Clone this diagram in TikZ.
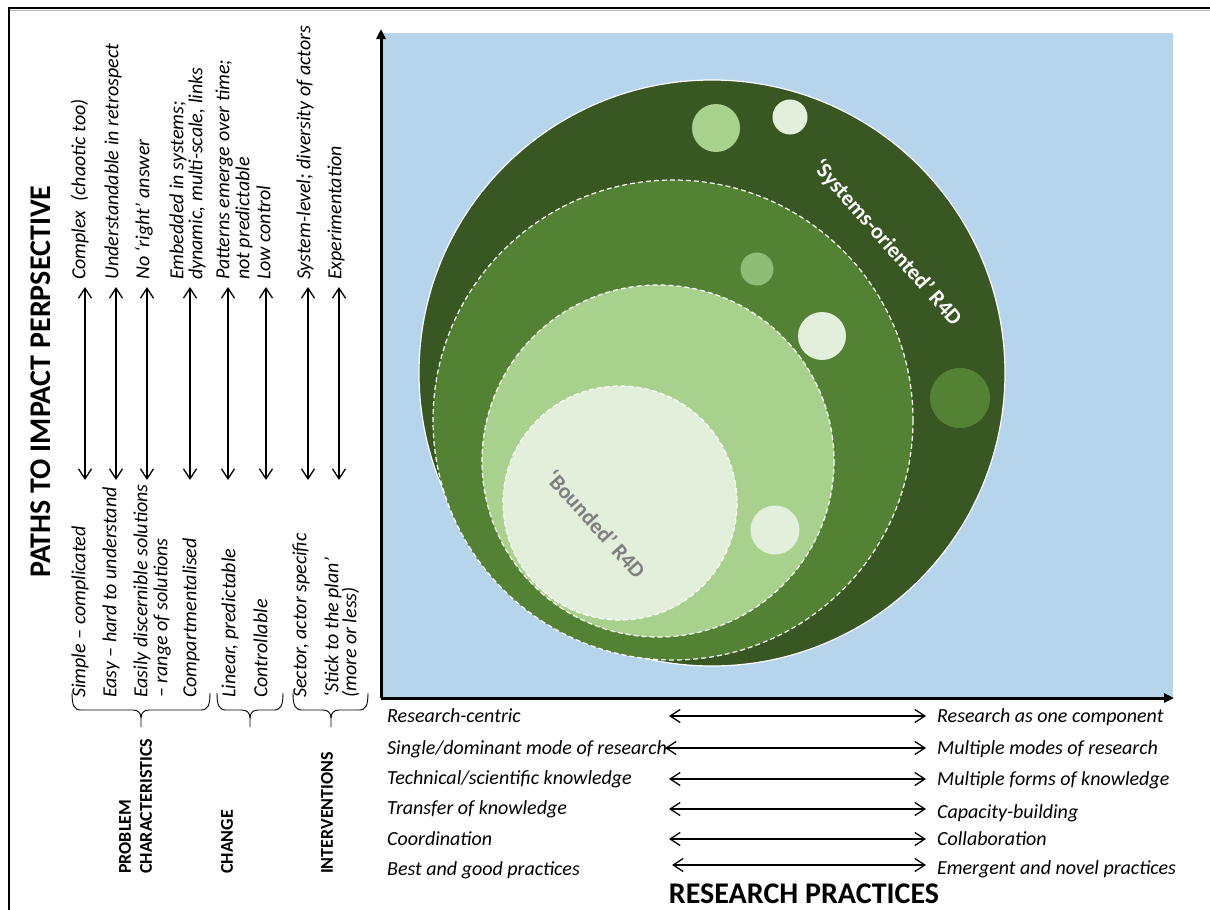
\documentclass[tikz,border=0pt]{standalone}
\usepackage{fontspec}
\setmainfont{Carlito}
\usetikzlibrary{arrows.meta}
\definecolor{skyb}{HTML}{B6D4EB}
\definecolor{gdark}{HTML}{385723}
\definecolor{gmid}{HTML}{548235}
\definecolor{glight}{HTML}{A9D18E}
\definecolor{gpale}{HTML}{E2EFDA}
\definecolor{gsoft}{HTML}{8EBB76}
\definecolor{boundgray}{HTML}{7F7F7F}
\tikzset{
  dbl/.style={line width=1.3pt,{Straight Barb[length=10pt,width=13pt]}-{Straight Barb[length=10pt,width=13pt]}},
  axisline/.style={line width=3pt,-{Triangle[length=10pt,width=9pt]}},
  vtxt/.style={rotate=90,anchor=mid west,inner sep=0pt,font=\fontsize{20}{24}\selectfont\itshape},
  htxt/.style={anchor=base west,inner sep=0pt,font=\fontsize{20}{24}\selectfont\itshape},
  grp/.style={rotate=90,anchor=west,inner sep=0pt,font=\fontsize{18}{22}\selectfont\bfseries},
  bigtitle/.style={inner sep=0pt,font=\fontsize{30}{36}\selectfont\bfseries},
  ring/.style={draw=white,line width=1.2pt,dash pattern=on 5pt off 3pt},
  bracepath/.style={line width=0.9pt}
}
\begin{document}
\begin{tikzpicture}[x=1pt,y=-1pt]
\useasboundingbox (0,0) rectangle (1210,910);
% frame
\draw[gray!60,line width=1pt] (10,10) -- (1210,10);
\draw[black,line width=1.5pt] (9,910) -- (9,8) -- (1210,8);
% blue field
\fill[skyb] (381,33) rectangle (1173,698);
% circles
\fill[gdark] (712,373) circle (293);
\draw[white,line width=1.2pt] (712,373) circle (293);
\fill[gmid] (673,420) circle (240);
\draw[ring] (673,420) circle (240);
\fill[glight] (658,461) circle (176);
\draw[ring] (658,461) circle (176);
\fill[gpale] (620,503) circle (117);
\draw[ring] (620,503) circle (117);
% small dots
\fill[glight] (716,128) circle (24);
\fill[gpale] (790,117) circle (17.5);
\fill[gsoft] (757,269) circle (16.5);
\fill[gpale] (822,336) circle (24);
\fill[gmid] (960,398) circle (30);
\fill[gpale] (775,530) circle (24.5);
% circle labels
\node[rotate=-48.5,text=white,inner sep=0pt,font=\fontsize{22}{24}\selectfont\bfseries] (sys) at (887,243) {‘Systems-oriented’ R4D};
\node[rotate=-48,text=boundgray,inner sep=0pt,font=\fontsize{22}{24}\selectfont\bfseries] (bnd) at (596,524) {‘Bounded’ R4D};
% axes
\coordinate (O) at (381,698);
\coordinate (Ytop) at (381,29);
\coordinate (Xend) at (1174,698);
\draw[axisline] (O) -- (Ytop);
\draw[axisline] (O) -- (Xend);
% title left
\node[bigtitle,rotate=90,anchor=west] (ptitle) at (41,578) {PATHS TO IMPACT PERPSECTIVE};
% vertical arrows
\foreach \i/\x in {1/85,2/116,3/147,4/190,5/228,6/266,7/308,8/339}{
  \coordinate (vt\i) at (\x,287);
  \coordinate (vb\i) at (\x,480);
  \draw[dbl] (vb\i) -- (vt\i);
}
% top texts
\node[vtxt] (t1) at (83,280) {Complex\ \ (chaotic too)};
\node[vtxt] (t2) at (116,280) {Understandable in retrospect};
\node[vtxt] (t3) at (147,280) {No ‘right’ answer};
\node[vtxt] (t4a) at (181,280) {Embedded in systems;};
\node[vtxt] (t4b) at (200,280) {dynamic, multi-scale, links};
\node[vtxt] (t5a) at (227,280) {Patterns emerge over time;};
\node[vtxt] (t5b) at (247,280) {not predictable};
\node[vtxt] (t6) at (268,280) {Low control};
\node[vtxt] (t7) at (308,280) {System-level; diversity of actors};
\node[vtxt] (t8) at (339,280) {Experimentation};
% bottom texts
\node[vtxt] (b1) at (83,698) {Simple – complicated};
\node[vtxt] (b2) at (114,698) {Easy – hard to understand};
\node[vtxt] (b3a) at (145,698) {Easily discernible solutions};
\node[vtxt] (b3b) at (165,698) {– range of solutions};
\node[vtxt] (b4) at (194,698) {Compartmentalised};
\node[vtxt] (b5) at (233,698) {Linear, predictable};
\node[vtxt] (b6) at (265,698) {Controllable};
\node[vtxt] (b7) at (304,698) {Sector, actor specific};
\node[vtxt] (b8a) at (336,698) {‘Stick to the plan’};
\node[vtxt] (b8b) at (354,698) {(more or less)};
% braces
\foreach \a/\m/\b in {72/141/210,217/250/283,293/331/368}{
  \draw[bracepath] (\a,693) .. controls (\a,705) and (\a+2,710) .. (\a+9,710) -- (\m-8,710)
     .. controls (\m-3,710) and (\m,713) .. (\m,718) -- (\m,727);
  \draw[bracepath] (\m,718) .. controls (\m,713) and (\m+3,710) .. (\m+8,710) -- (\b-9,710)
     .. controls (\b-2,710) and (\b,705) .. (\b,693);
}
% group labels
\node[grp] (g1a) at (125,874) {PROBLEM};
\node[grp] (g1b) at (146,874) {CHARACTERISTICS};
\node[grp] (g2) at (227,874) {CHANGE};
\node[grp] (g3) at (327,874) {INTERVENTIONS};
% research practices rows
\node[htxt] (l1) at (387,722) {Research-centric};
\node[htxt] (l2) at (387,754) {Single/dominant mode of research};
\node[htxt] (l3) at (387,784) {Technical/scientific knowledge};
\node[htxt] (l4) at (387,814) {Transfer of knowledge};
\node[htxt] (l5) at (387,845) {Coordination};
\node[htxt] (l6) at (387,875) {Best and good practices};
\node[htxt] (r1) at (937,722) {Research as one component};
\node[htxt] (r2) at (937,754) {Multiple modes of research};
\node[htxt] (r3) at (937,785) {Multiple forms of knowledge};
\node[htxt] (r4) at (937,818) {Capacity-building};
\node[htxt] (r5) at (937,845) {Collaboration};
\node[htxt] (r6) at (937,874) {Emergent and novel practices};
\foreach \i/\y/\xl in {1/716/669,2/748/665,3/779/669,4/809/669,5/839/669,6/865/672}{
  \coordinate (hl\i) at (\xl,\y);
  \coordinate (hr\i) at (926,\y);
  \draw[dbl] (hl\i) -- (hr\i);
}
\node[bigtitle] (rp) at (804,894) {RESEARCH PRACTICES};
\end{tikzpicture}
\end{document}
